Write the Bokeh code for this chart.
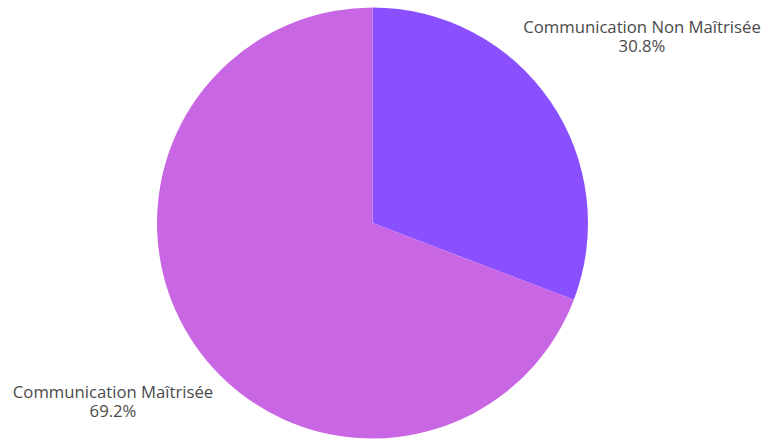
import math
from bokeh.plotting import figure
from bokeh.models import ColumnDataSource, Range1d
from bokeh.core.properties import value
from bokeh.embed import file_html
from bokeh.resources import INLINE

categories = ["Communication Non Maîtrisée", "Communication Maîtrisée"]
percents = [30.8, 69.2]
colors = ["#8A50FF", "#C966E4"]

W, H = 780, 443
cx, cy, r = 372, H - 222.5, 215.5

# angles: start at 12 o'clock, go clockwise
starts, ends = [], []
a = math.pi / 2
total = sum(percents)
for pct in percents:
    sweep = pct / total * 2 * math.pi
    starts.append(a)
    ends.append(a - sweep)
    a -= sweep

src = ColumnDataSource(dict(start=starts, end=ends, color=colors))

p = figure(width=W, height=H, x_range=Range1d(0, W), y_range=Range1d(0, H),
           output_backend="svg", toolbar_location=None, min_border=0)
p.axis.visible = False
p.grid.visible = False
p.outline_line_color = None
p.background_fill_color = "white"

p.wedge(x=cx, y=cy, radius=r, start_angle="start", end_angle="end",
        direction="clock", color="color", line_color=None, source=src)

label_pos = [(641.5, H - 26), (112.5, H - 391)]
tx, ty, tt = [], [], []
for (lx, ly), cat, pct in zip(label_pos, categories, percents):
    tx += [lx, lx]
    ty += [ly, ly - 19]
    tt += [cat, f"{pct:.1f}%"]

p.text(x=tx, y=ty, text=tt, text_align="center", text_baseline="middle",
       text_font=value("Open Sans"), text_font_size="16.7px", text_color="#4a4a4a")

open("out.html", "w").write(file_html(p, INLINE))
